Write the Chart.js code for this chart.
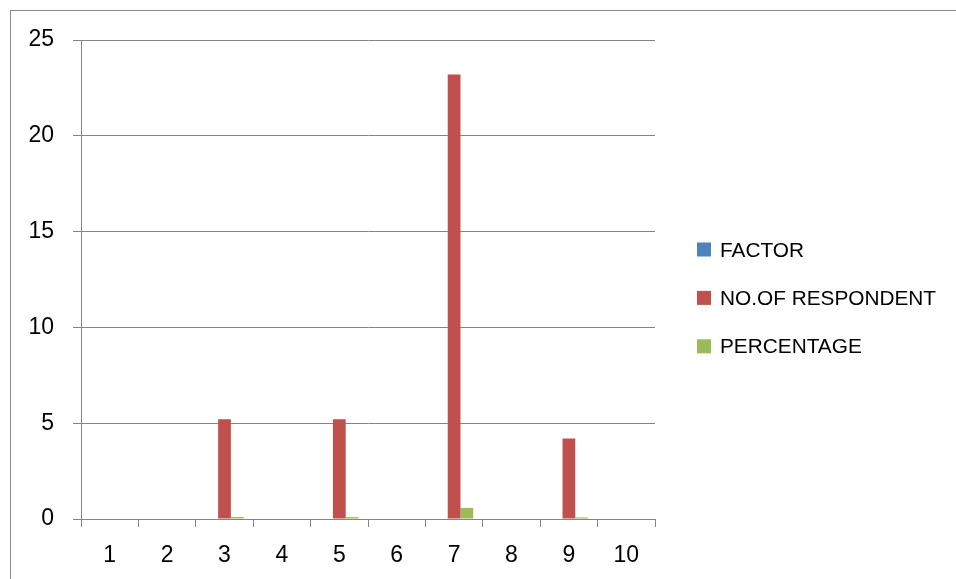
<!DOCTYPE html>
<html>
<head>
<meta charset="utf-8">
<script src="https://cdn.jsdelivr.net/npm/chart.js@4"></script>
<style>
  html, body { margin: 0; padding: 0; background: #ffffff; }
  #wrap { position: relative; width: 956px; height: 579px; overflow: hidden; }
  #frame { position: absolute; left: 10px; top: 10px; width: 1000px; height: 1000px;
           border-left: 1px solid #8a8a8a; border-top: 1px solid #8a8a8a; }
  #c { position: absolute; left: 0; top: 0; }
</style>
</head>
<body>
<div id="wrap">
  <div id="frame"></div>
  <canvas id="c" width="956" height="579"></canvas>
</div>
<script>
// Categories along the x axis
const categories = ['1', '2', '3', '4', '5', '6', '7', '8', '9', '10'];

// Series values
const factorValues      = [0, 0, 0, 0, 0, 0, 0, 0, 0, 0];
const respondentValues  = [0, 0, 5.2, 0, 5.2, 0, 23.2, 0, 4.2, 0];
const percentageValues  = [0, 0, 0.1, 0, 0.1, 0, 0.58, 0, 0.08, 0];

// Series names
const seriesNames = ['FACTOR', 'NO.OF RESPONDENT', 'PERCENTAGE'];

// Value axis range
const yMin = 0;
const yMax = 25;
const yStep = 5;

const FONT = "'Liberation Sans', Arial, sans-serif";
const GRID = '#858585';

// Legend drawn to the right of the plot area
const sideLegend = {
  id: 'sideLegend',
  afterDraw(chart, args, opts) {
    const ctx = chart.ctx;
    const x0 = chart.chartArea.right + opts.gap;
    ctx.save();
    ctx.font = opts.fontSize + 'px ' + FONT;
    ctx.textBaseline = 'alphabetic';
    ctx.textAlign = 'left';
    chart.data.datasets.forEach((ds, i) => {
      const base = opts.firstBaseline + i * opts.rowStep;
      ctx.fillStyle = ds.backgroundColor;
      ctx.fillRect(x0, base - opts.box, opts.box, opts.box);
      ctx.fillStyle = '#000000';
      ctx.fillText(ds.label, x0 + opts.box + opts.textGap, base);
    });
    ctx.restore();
  }
};

new Chart(document.getElementById('c'), {
  type: 'bar',
  data: {
    labels: categories,
    datasets: [
      { label: seriesNames[0], data: factorValues,     backgroundColor: '#4F81BD' },
      { label: seriesNames[1], data: respondentValues, backgroundColor: '#C0504D' },
      { label: seriesNames[2], data: percentageValues, backgroundColor: '#9BBB59' }
    ]
  },
  options: {
    responsive: false,
    animation: false,
    events: [],
    layout: { padding: { left: 0, top: 40, right: 301, bottom: 0 } },
    datasets: { bar: { categoryPercentage: 2 / 3, barPercentage: 1, borderWidth: 0 } },
    scales: {
      x: {
        offset: true,
        grid: { offset: true, drawOnChartArea: false, drawTicks: true, tickLength: 8, color: GRID, lineWidth: 1 },
        border: { display: true, color: GRID, width: 1 },
        ticks: { color: '#000000', font: { family: FONT, size: 23 }, padding: 15, maxRotation: 0 },
        afterFit(scale) { scale.height = 60; }
      },
      y: {
        min: yMin,
        max: yMax,
        grid: { drawOnChartArea: true, drawTicks: true, tickLength: 8, color: GRID, lineWidth: 1 },
        border: { display: true, color: GRID, width: 1 },
        ticks: { stepSize: yStep, color: '#000000', font: { family: FONT, size: 23 }, padding: 19 },
        afterFit(scale) { scale.width = 81; }
      }
    },
    plugins: {
      legend: { display: false },
      tooltip: { enabled: false },
      sideLegend: { gap: 42, firstBaseline: 256.5, rowStep: 48.4, box: 14, textGap: 9, fontSize: 20.8 }
    }
  },
  plugins: [sideLegend]
});
</script>
</body>
</html>
